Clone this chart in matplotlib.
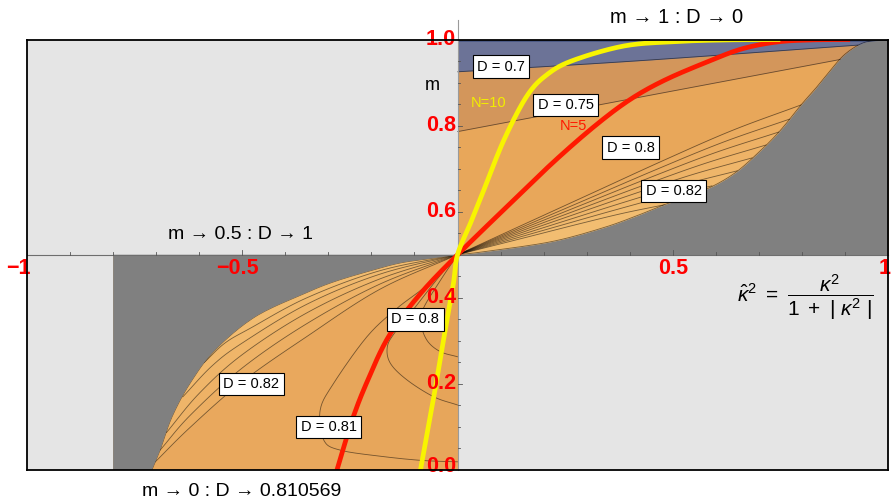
import numpy as np
import matplotlib
matplotlib.use("Agg")
import matplotlib.pyplot as plt
from matplotlib.colors import to_rgb

plt.rcParams["font.family"] = ["Liberation Sans", "DejaVu Sans"]
plt.rcParams["mathtext.fontset"] = "custom"
plt.rcParams["mathtext.rm"] = "Liberation Sans"
plt.rcParams["mathtext.it"] = "Liberation Sans:italic"

# ---------------- upper sheet: 0 <= k^2, 0.5 <= m <= 1 ----------------
upper_edge_x = [0.0, 0.061, 0.216, 0.333, 0.410, 0.480, 0.573, 0.643, 0.705,
                0.751, 0.798, 0.829, 0.860, 0.898, 0.937, 0.968, 1.0]
upper_edge_m = [0.5, 0.507, 0.530, 0.561, 0.588, 0.616, 0.650, 0.689, 0.743,
                0.790, 0.848, 0.883, 0.921, 0.964, 0.990, 0.997, 0.998]

# fan of contours leaving (0, 0.5): where each one meets the edge (m value)
upper_fan_end_m = [0.848, 0.815, 0.785, 0.755, 0.725, 0.695, 0.660, 0.616]
# common shape of the fan contours (fraction of run vs fraction of rise)
fan_shape_u = [0.0, 0.2, 0.4, 0.6, 0.8, 1.0]
fan_shape_v = [0.0, 0.21, 0.42, 0.63, 0.83, 1.0]

c075_x = [0.0, 0.45, 0.891]
c075_m = [0.786, 0.871, 0.954]
c070_x = [0.0, 0.426, 0.930]
c070_m = [0.925, 0.951, 0.987]

# ---------------- lower sheet: k^2 < 0, 0 <= m <= 0.5 ----------------
lower_edge_x = [-0.710, -0.691, -0.663, -0.621, -0.563, -0.470, -0.353,
                -0.288, -0.209, -0.133, -0.056, 0.0]
lower_edge_m = [0.0, 0.046, 0.124, 0.202, 0.279, 0.356, 0.411,
                0.437, 0.461, 0.481, 0.492, 0.5]

lower_fan = [
    ([-0.702, -0.62, -0.50, -0.35, -0.18, 0.0], [0.019, 0.100, 0.205, 0.310, 0.420, 0.5]),
    ([-0.691, -0.62, -0.50, -0.35, -0.18, 0.0], [0.046, 0.128, 0.237, 0.340, 0.432, 0.5]),
    ([-0.676, -0.60, -0.50, -0.35, -0.18, 0.0], [0.087, 0.178, 0.268, 0.365, 0.444, 0.5]),
    ([-0.638, -0.57, -0.50, -0.35, -0.18, 0.0], [0.170, 0.242, 0.295, 0.385, 0.455, 0.5]),
    ([-0.588, -0.54, -0.48, -0.35, -0.18, 0.0], [0.250, 0.295, 0.330, 0.400, 0.463, 0.5]),
]
loop_081_x = [0.0, -0.07, -0.14, -0.21, -0.288, -0.319, -0.311, -0.272, -0.171, -0.08, 0.0]
loop_081_m = [0.5, 0.43, 0.376, 0.31, 0.201, 0.139, 0.070, 0.046, 0.031, 0.022, 0.019]
loop_080_x = [0.0, -0.05, -0.10, -0.145, -0.163, -0.156, -0.117, -0.055, 0.0]
loop_080_m = [0.5, 0.44, 0.376, 0.32, 0.286, 0.248, 0.209, 0.170, 0.151]
loop_079_x = [0.0, -0.04, -0.079, -0.085, -0.07, -0.04, 0.0]
loop_079_m = [0.5, 0.44, 0.376, 0.34, 0.30, 0.275, 0.263]

# ---------------- N = 5 and N = 10 curves ----------------
red_x = [-0.28, -0.245, -0.21, -0.16, -0.09, 0.0, 0.139, 0.228, 0.32, 0.40,
         0.48, 0.58, 0.66, 0.74, 0.82, 0.912]
red_m = [0.0, 0.115, 0.205, 0.31, 0.405, 0.5, 0.635, 0.72, 0.80, 0.86,
         0.905, 0.948, 0.978, 0.994, 0.999, 1.0]
yellow_x = [-0.086, -0.055, -0.032, -0.01, 0.0, 0.03, 0.061, 0.108, 0.162,
            0.21, 0.27, 0.387, 0.503, 0.62, 0.75]
yellow_m = [0.0, 0.17, 0.305, 0.43, 0.5, 0.573, 0.65, 0.767, 0.87,
            0.92, 0.952, 0.985, 0.995, 0.999, 1.0]

x_tick_vals = [-1, -0.5, 0.5, 1]
x_tick_text = ["\u22121", "\u22120.5", "0.5", "1"]
y_tick_vals = [0.0, 0.2, 0.4, 0.6, 0.8, 1.0]
y_tick_text = ["0.0", "0.2", "0.4", "0.6", "0.8", "1.0"]

labels = [
    ("D = 0.7", 0.101, 0.937), ("D = 0.75", 0.251, 0.848),
    ("D = 0.8", 0.402, 0.749), ("D = 0.82", 0.502, 0.648),
    ("D = 0.8", -0.098, 0.350), ("D = 0.82", -0.479, 0.200),
    ("D = 0.81", -0.299, 0.100),
]


def smooth(xs, ys, n=14):
    p = np.column_stack([xs, ys]).astype(float)
    p = np.vstack([2 * p[0] - p[1], p, 2 * p[-1] - p[-2]])
    t = np.linspace(0, 1, n, endpoint=False)[:, None]
    out = []
    for i in range(1, len(p) - 2):
        p0, p1, p2, p3 = p[i - 1], p[i], p[i + 1], p[i + 2]
        seg = 0.5 * (2 * p1 + (-p0 + p2) * t + (2 * p0 - 5 * p1 + 4 * p2 - p3) * t ** 2
                     + (-p0 + 3 * p1 - 3 * p2 + p3) * t ** 3)
        out.append(seg)
    out.append(p[-2][None, :])
    r = np.vstack(out)
    return r[:, 0], r[:, 1]


def blend(c1, c2, k):
    a, b = np.array(to_rgb(c1)), np.array(to_rgb(c2))
    return [tuple(a + (b - a) * f) for f in np.linspace(0, 1, k)]


GREY = "#808080"
LINE = dict(color="black", lw=0.6, alpha=0.5, zorder=4)

fig = plt.figure(figsize=(8.94, 5.03), dpi=100)
ax = fig.add_axes([27 / 894, 1 - 470 / 503, 861 / 894, 430.5 / 503])
ax.set_xlim(-1, 1)
ax.set_ylim(0, 1)
ax.set_facecolor("#e5e5e5")
ax.set_xticks([])
ax.set_yticks([])
for s in ax.spines.values():
    s.set_color("black")
    s.set_linewidth(1.3)
    s.set_zorder(20)

# ---- upper sheet ----
ax.fill_between([0, 1], 0.5, 1.0, color="#e8a75a", lw=0, zorder=1)
ux, um = smooth(upper_edge_x, upper_edge_m)
fan_cols = blend("#ebac60", "#f2bd71", len(upper_fan_end_m))
fan_lines = []
for me, col in zip(upper_fan_end_m, fan_cols):
    xe = np.interp(me, upper_edge_m, upper_edge_x)
    px = np.array(fan_shape_u) * xe
    pm = 0.5 + np.array(fan_shape_v) * (me - 0.5)
    fx, fm = smooth(px, pm)
    fan_lines.append((fx, fm))
    ax.fill_between(np.append(fx, 1.0), 0.5, np.append(fm, me), color=col, lw=0, zorder=2)

for xs, ms, col in [(c075_x, c075_m, "#d3965b"), (c070_x, c070_m, "#6c7397")]:
    lx, lm = smooth(xs, ms)
    ax.fill_between(np.append(lx, 1.0), np.append(lm, lm[-1]), 1.0, color=col, lw=0, zorder=2)
    ax.plot(lx, lm, **LINE)
ax.fill_between([0, 1], 0.994, 1.0, color="#4c5a86", lw=0, zorder=2)
for fx, fm in fan_lines:
    ax.plot(fx, fm, **LINE)
ax.fill_between(ux, 0.5, um, color=GREY, lw=0, zorder=5)
ax.plot(ux, um, **LINE)

# ---- lower sheet ----
ax.fill_between([-0.8, 0], 0.0, 0.5, color="#e9a85d", lw=0, zorder=1)
low_cols = blend("#ecae62", "#f2bc70", len(lower_fan))
low_lines = []
for (xs, ms), col in zip(lower_fan, low_cols):
    fx, fm = smooth(xs, ms)
    low_lines.append((fx, fm))
    ax.fill_between(np.insert(fx, 0, -0.8), np.insert(fm, 0, fm[0]), 0.5,
                    color=col, lw=0, zorder=2)
for xs, ms, col in [(loop_081_x, loop_081_m, "#e7a65b"),
                    (loop_080_x, loop_080_m, "#e6a459"),
                    (loop_079_x, loop_079_m, "#e4a257")]:
    lx, lm = smooth(xs, ms)
    ax.fill(lx, lm, color=col, lw=0, zorder=3)
    ax.plot(lx, lm, **LINE)
for fx, fm in low_lines:
    ax.plot(fx, fm, **LINE)
lx, lm = smooth(lower_edge_x, lower_edge_m)
ax.fill(np.concatenate([[-0.8], lx, [-0.8]]), np.concatenate([[0.0], lm, [0.5]]),
        color=GREY, lw=0, zorder=5)
ax.plot(lx, lm, **LINE)

# ---- N curves ----
rx, rm = smooth(red_x, red_m)
ax.plot(rx, rm, color="#ff1a00", lw=3.4, solid_capstyle="butt", zorder=8)
yx, ym = smooth(yellow_x, yellow_m)
ax.plot(yx, ym, color="#f8f400", lw=3.4, solid_capstyle="butt", zorder=8)
ax.text(0.073, 0.852, "N=10", color="#f2ee00", fontsize=10.5, ha="center", va="center", zorder=9)
ax.text(0.270, 0.799, "N=5", color="#ff1a00", fontsize=10.5, ha="center", va="center", zorder=9)

# ---- axes through (0, 0.5) ----
ax.plot([-1, 1], [0.5, 0.5], color="#6e6e6e", lw=0.8, zorder=7, clip_on=False)
ax.plot([0, 0], [0, 1.045], color="#9a9a9a", lw=0.8, zorder=7, clip_on=False)
for v in np.arange(0.0, 1.001, 0.05):
    major = abs(v * 5 - round(v * 5)) < 1e-6
    ax.plot([0, 0.011 if major else 0.006], [v, v], color="#555555", lw=0.6, zorder=7)
for v in np.arange(-1.0, 1.001, 0.1):
    if abs(v) < 1e-6:
        continue
    major = abs(v * 2 - round(v * 2)) < 1e-6
    ax.plot([v, v], [0.5, 0.512 if major else 0.506], color="#555555", lw=0.6, zorder=7)

tick_font = dict(color="#ff0000", fontsize=15.5, fontweight="bold", zorder=12)
x_label_pos = [-1.021, -0.512, 0.5, 0.993]
for xv, t in zip(x_label_pos, x_tick_text):
    ax.text(xv, 0.469, t, ha="center", va="center", clip_on=False, **tick_font)
for yv, t in zip(y_tick_vals, y_tick_text):
    ax.text(-0.004, yv + (0.007 if yv == 0 else 0), t, ha="right", va="center",
            clip_on=False, **tick_font)
ax.text(-0.058, 0.892, "m", fontsize=13, ha="center", va="center", zorder=12)

# ---- contour labels ----
for t, xv, yv in labels:
    ax.text(xv, yv, t, fontsize=10.5, ha="center", va="center", zorder=11,
            bbox=dict(boxstyle="square,pad=0.3", fc="white", ec="black", lw=0.8))

# ---- annotations ----
ax.text(0.509, 1.05, "m \u2192 1 : D \u2192 0", fontsize=14.5, ha="center", va="center", clip_on=False)
ax.text(-0.503, 0.546, "m \u2192 0.5 : D \u2192 1", fontsize=14, ha="center", va="center", zorder=12)
ax.text(-0.501, -0.051, "m \u2192 0 : D \u2192 0.810569", fontsize=14, ha="center",
        va="center", clip_on=False)
ax.text(0.809, 0.402, r"$\hat{\kappa}^2\ =\ \dfrac{\kappa^2}{1\ +\ |\ \kappa^2\ |}$",
        fontsize=15, ha="center", va="center", zorder=12)

fig.savefig("out.png", dpi=100)
